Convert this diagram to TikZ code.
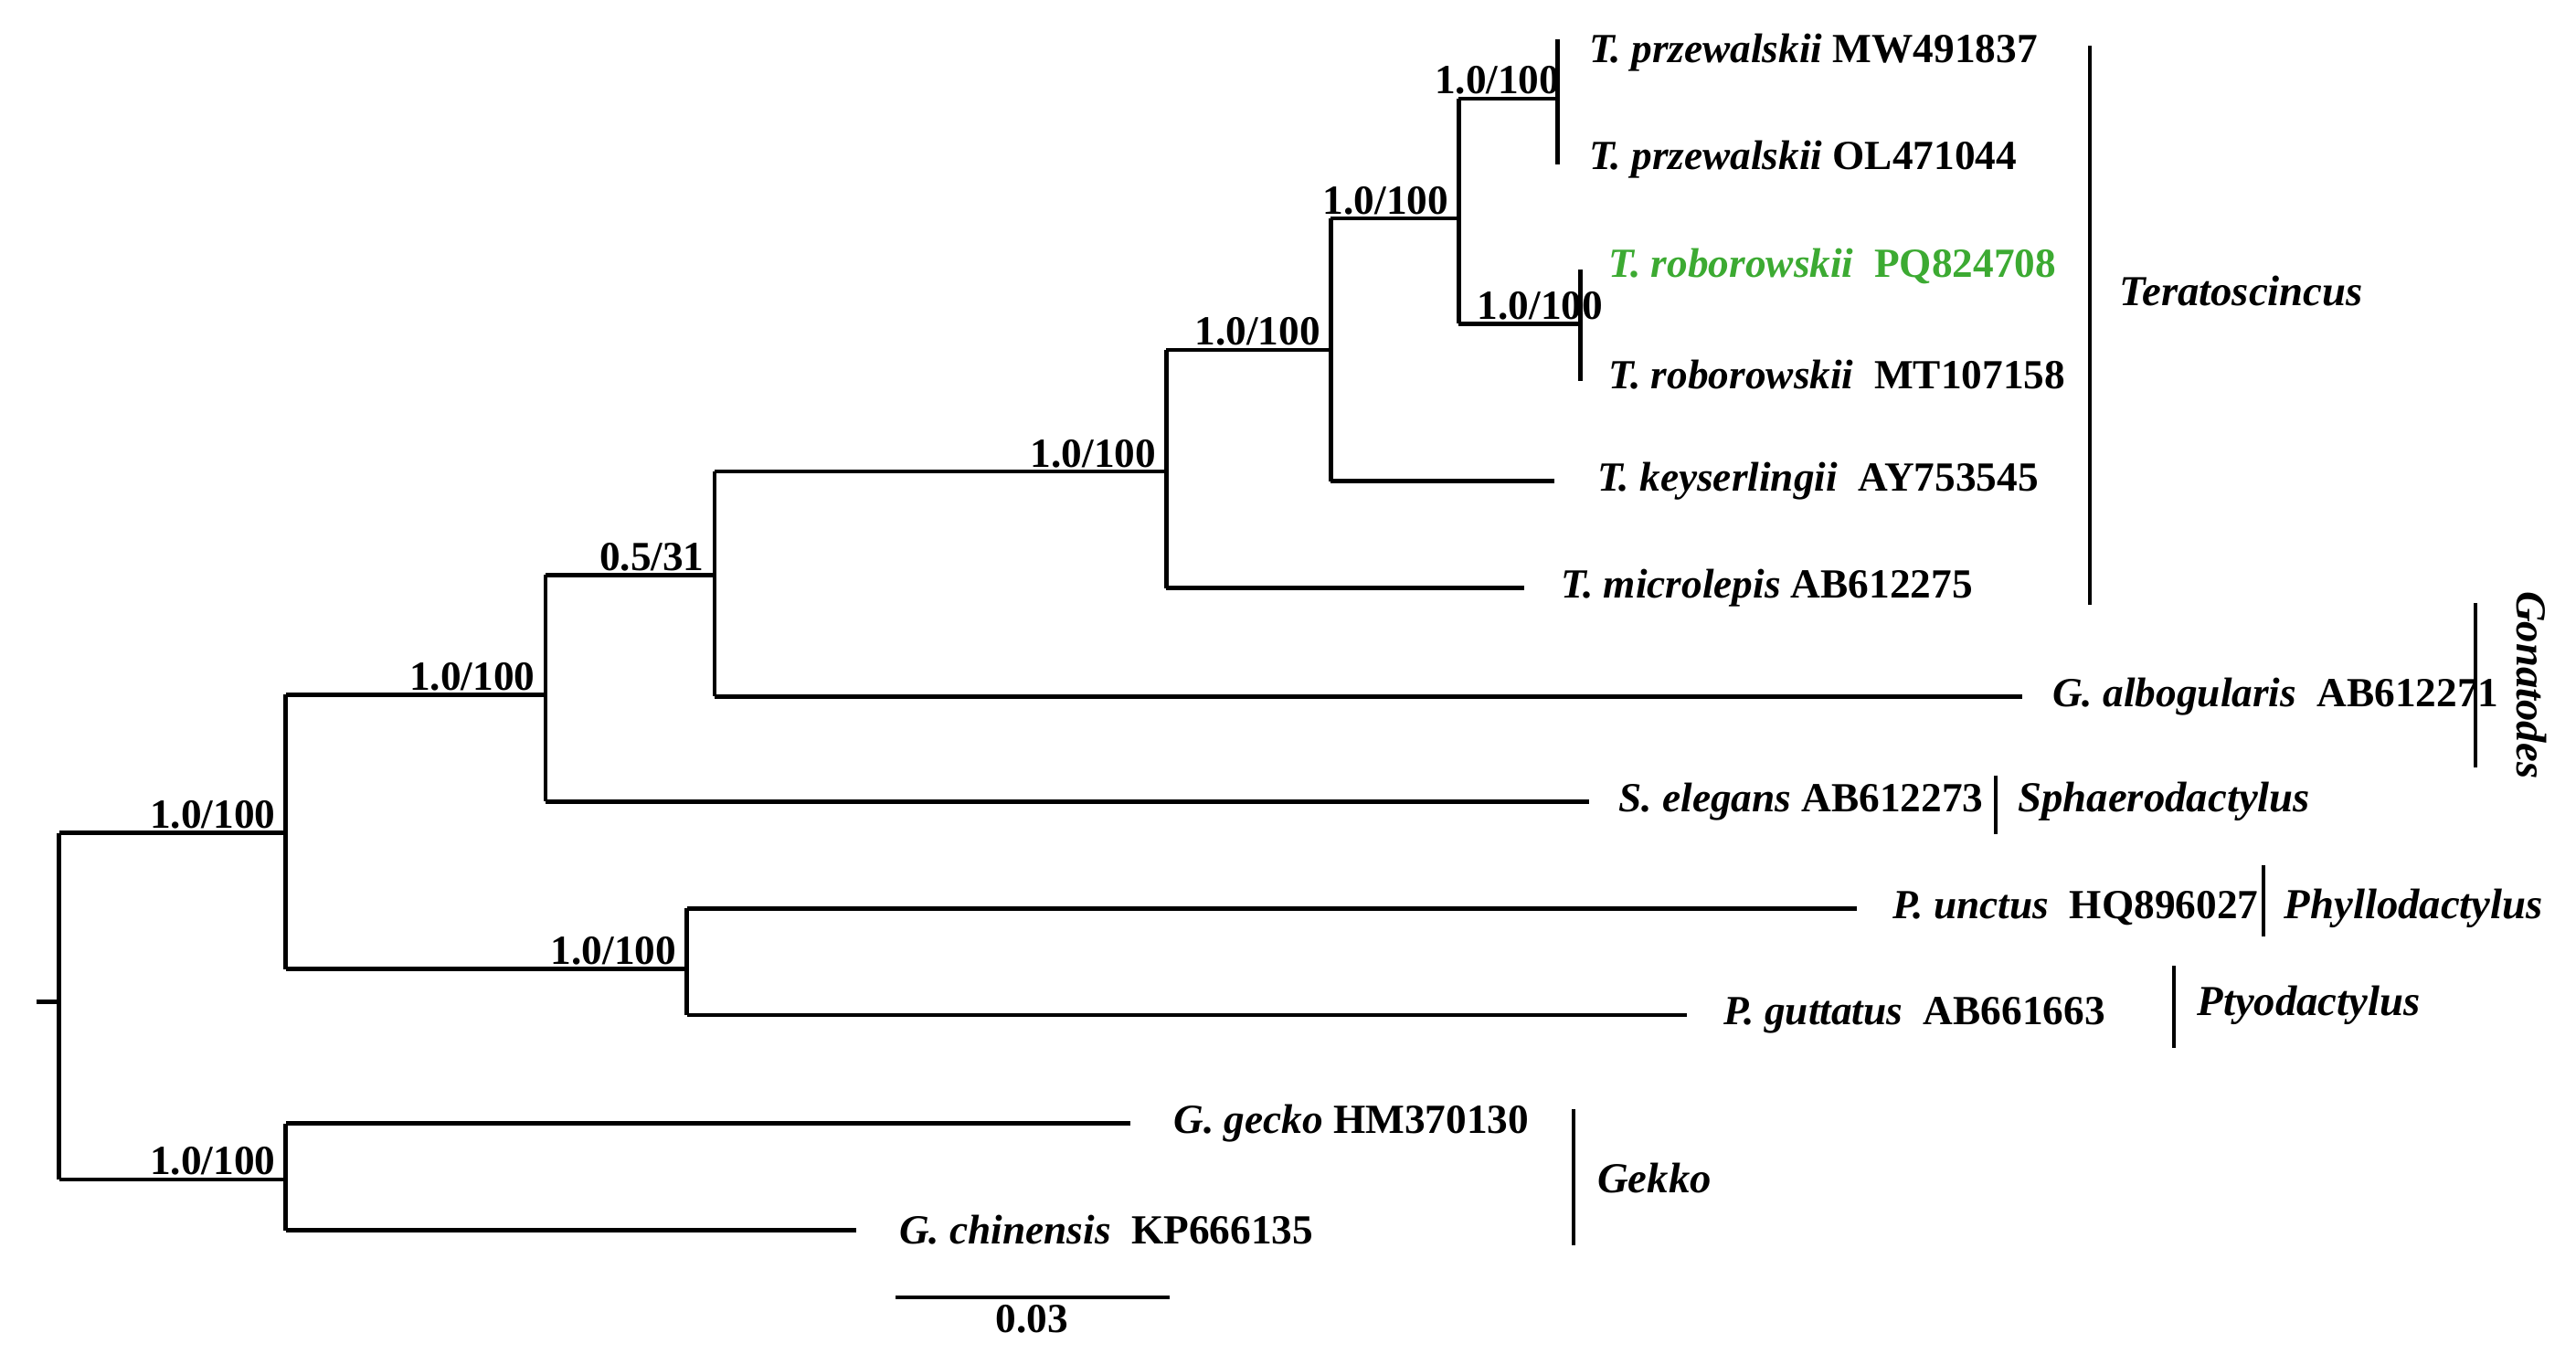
\documentclass[tikz,border=0pt]{standalone}
\usepackage{fontspec}
\setmainfont{Liberation Serif}
\begin{document}
\begin{tikzpicture}[x=0.5pt,y=-0.5pt,
  br/.style={line width=1.3pt},
  bar/.style={line width=1.1pt},
  tip/.style={anchor=west,inner sep=1pt,font=\fontsize{12.6}{14}\bfseries\selectfont},
  sup/.style={anchor=south east,inner sep=1pt,font=\fontsize{12.6}{14}\bfseries\selectfont},
  clade/.style={anchor=west,inner sep=1pt,font=\fontsize{13}{15}\bfseries\itshape\selectfont}]
\useasboundingbox (0,0) rectangle (1568,824);
\definecolor{grn}{RGB}{60,170,50}
% internal nodes
\coordinate (r) at (36,610);
\coordinate (r0) at (22,610);
\coordinate (A) at (174,507);
\coordinate (B) at (332,423);
\coordinate (C) at (435,350);
\coordinate (D) at (710,287);
\coordinate (E) at (810,213);
\coordinate (F) at (888,133);
\coordinate (G) at (948,60);
\coordinate (Gt) at (948,24);
\coordinate (Gb) at (948,100);
\coordinate (H) at (962,197);
\coordinate (Ht) at (962,164);
\coordinate (Hb) at (962,232);
\coordinate (I) at (418,590);
\coordinate (J) at (174,718);
% tips
\node[tip] (t1) at (965,32) {\itshape T. przewalskii\upshape\ MW491837};
\node[tip] (t2) at (965,97) {\itshape T. przewalskii\upshape\ OL471044};
\node[tip,text=grn] (t3) at (977,162) {\itshape T. roborowskii\upshape\ \ PQ824708};
\node[tip] (t4) at (977,228) {\itshape T. roborowskii\upshape\ \ MT107158};
\node[tip] (t5) at (970,293) {\itshape T. keyserlingii\upshape\ \ AY753545};
\node[tip] (t6) at (948,358) {\itshape T. microlepis\upshape\ AB612275};
\node[tip] (t7) at (1247,424) {\itshape G. albogularis\upshape\ \ AB612271};
\node[tip] (t8) at (983,488) {\itshape S. elegans\upshape\ AB612273};
\node[tip] (t9) at (1150,553) {\itshape P. unctus\upshape\ \ HQ896027};
\node[tip] (t10) at (1047,618) {\itshape P. guttatus\upshape\ \ AB661663};
\node[tip] (t11) at (712,684) {\itshape G. gecko\upshape\ HM370130};
\node[tip] (t12) at (545,749) {\itshape G. chinensis\upshape\ \ KP666135};
% branches
\draw[br] (r0) -- (r);
\draw[br] (r |- A) -- (r |- J);
\draw[br] (r |- A) -- (A);
\draw[br] (r |- J) -- (J);
\draw[br] (A |- B) -- (A |- I);
\draw[br] (A |- B) -- (B);
\draw[br] (A |- I) -- (I);
\draw[br] (B |- C) -- (B |- t8);
\draw[br] (B |- C) -- (C);
\draw[br] (B |- t8) -- ([xshift=-8]t8.west);
\draw[br] (C |- D) -- (C |- t7);
\draw[br] (C |- D) -- (D);
\draw[br] (C |- t7) -- ([xshift=-8]t7.west);
\draw[br] (D |- E) -- (D |- t6);
\draw[br] (D |- E) -- (E);
\draw[br] (D |- t6) -- ([xshift=-10]t6.west);
\draw[br] (E |- F) -- (E |- t5);
\draw[br] (E |- F) -- (F);
\draw[br] (E |- t5) -- ([xshift=-12]t5.west);
\draw[br] (F |- G) -- (F |- H);
\draw[br] (F |- G) -- (G);
\draw[br] (F |- H) -- (H);
\draw[br] (Gt) -- (Gb);
\draw[br] (Ht) -- (Hb);
\draw[br] (I |- t9) -- (I |- t10);
\draw[br] (I |- t9) -- ([xshift=-10]t9.west);
\draw[br] (I |- t10) -- ([xshift=-10]t10.west);
\draw[br] (J |- t11) -- (J |- t12);
\draw[br] (J |- t11) -- ([xshift=-12]t11.west);
\draw[br] (J |- t12) -- ([xshift=-12]t12.west);
% support values
\node[sup] (s1) at ([xshift=-2]A) {1.0/100};
\node[sup] (s2) at ([xshift=-2]B) {1.0/100};
\node[sup] (s3) at ([xshift=-2]C) {0.5/31};
\node[sup] (s4) at ([xshift=-2]D) {1.0/100};
\node[sup] (s5) at ([xshift=-2]E) {1.0/100};
\node[sup] (s6) at ([xshift=-2]F) {1.0/100};
\node[sup] (s7) at ([xshift=2]G) {1.0/100};
\node[sup] (s8) at ([xshift=8]H) {1.0/100};
\node[sup] (s9) at ([xshift=-2]I) {1.0/100};
\node[sup] (s10) at ([xshift=-2]J) {1.0/100};
% clade bars
\draw[bar] (1272,28) -- (1272,368);
\node[clade] (c1) at (1288,177) {Teratoscincus};
\draw[bar] (1507,367) -- (1507,467);
\node[clade,anchor=center,rotate=-90] (c2) at (1541,417) {Gonatodes};
\draw[bar] (1215,472) -- (1215,508);
\node[clade] (c3) at (1226,488) {Sphaerodactylus};
\draw[bar] (1378,527) -- (1378,570);
\node[clade] (c4) at (1388,553) {Phyllodactylus};
\draw[bar] (1323,588) -- (1323,638);
\node[clade] (c5) at (1335,612) {Ptyodactylus};
\draw[bar] (958,675) -- (958,758);
\node[clade] (c6) at (970,717) {Gekko};
% scale bar
\coordinate (sb1) at (545,790);
\coordinate (sb2) at (712,790);
\draw[bar] (sb1) -- (sb2);
\node[tip,anchor=north] (sbl) at (628,792) {0.03};
\end{tikzpicture}
\end{document}
